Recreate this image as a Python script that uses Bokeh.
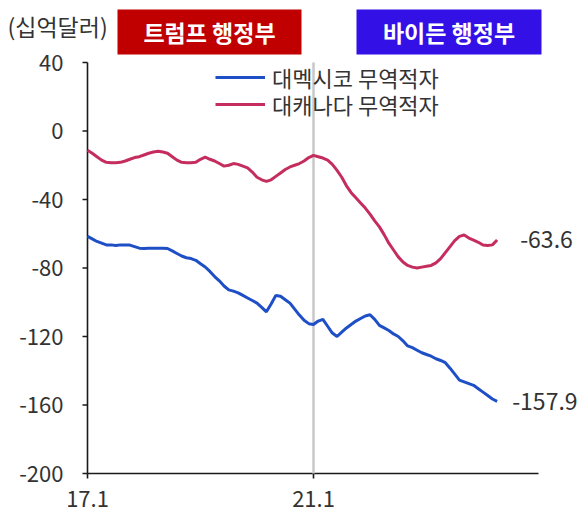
import math
from bokeh.plotting import figure
from bokeh.models import Range1d, Label, BoxAnnotation, Legend, LegendItem
from bokeh.embed import file_html
from bokeh.resources import INLINE
from bokeh.core.properties import value

# ---------------- data ----------------
months = list(range(88))            # monthly index from 2017.1
x_tick_pos = [0, 48]
x_tick_labels = ["17.1", "21.1"]
y_ticks = [40, 0, -40, -80, -120, -160, -200]
y_tick_labels = ["40", "0", "-40", "-80", "-120", "-160", "-200"]

series_names = ["대멕시코 무역적자", "대캐나다 무역적자"]
admin_names = ["트럼프 행정부", "바이든 행정부"]
unit_label = "(십억달러)"

mexico = [
    -61.5, -63.0, -64.5, -65.5, -66.5, -66.5, -66.8, -66.5, -66.6, -66.6,
    -67.5, -68.4, -68.6, -68.4, -68.5, -68.4, -68.4, -68.6, -70.0, -71.5,
    -73.0, -74.0, -74.5, -75.5, -77.5, -79.4, -82.0, -85.0, -87.5, -90.5,
    -92.8, -93.5, -94.5, -96.0, -97.5, -99.0, -100.5, -103.0, -105.6, -101.0,
    -96.0, -96.5, -98.5, -100.5, -104.0, -107.5, -110.5, -112.5, -113.0, -111.0,
    -110.0, -114.0, -118.0, -120.0, -117.5, -115.0, -113.0, -111.0, -109.5, -108.0,
    -107.3, -110.0, -113.5, -115.0, -116.5, -118.5, -120.0, -122.5, -125.5, -126.5,
    -128.0, -129.5, -130.5, -131.5, -133.0, -134.0, -135.3, -138.5, -142.0, -145.5,
    -146.5, -147.5, -148.5, -150.5, -152.5, -154.5, -156.5, -157.9,
]
canada = [
    -11.2, -13.0, -15.0, -17.0, -18.3, -18.5, -18.5, -18.3, -17.5, -16.5,
    -15.5, -15.0, -14.0, -13.0, -12.3, -11.8, -12.3, -13.0, -15.0, -17.0,
    -18.3, -18.5, -18.5, -18.3, -16.5, -15.3, -16.5, -17.5, -19.0, -20.5,
    -20.0, -19.0, -19.5, -20.5, -21.5, -24.0, -27.0, -28.5, -29.4, -28.5,
    -26.5, -24.5, -22.5, -21.0, -20.0, -19.0, -17.5, -15.5, -14.2, -15.0,
    -15.8, -17.0, -19.5, -23.0, -27.0, -32.0, -36.0, -39.0, -42.0, -45.0,
    -48.5, -52.5, -56.0, -60.5, -65.5, -69.5, -73.5, -76.5, -78.5, -79.5,
    -80.0, -79.5, -79.0, -78.5, -77.0, -74.5, -71.0, -67.5, -64.0, -61.5,
    -60.7, -62.5, -63.7, -65.0, -66.6, -66.8, -66.5, -63.6,
]

# ---------------- styling ----------------
FONT = "Noto Sans CJK KR"
BLUE = "#1F4FC6"
PINK = "#C42D5E"
RED_BOX = "#C00000"
BLUE_BOX = "#3311E6"
TXT = "#333333"
AXIS = "#1a1a1a"

W, H = 577, 513
AXIS_X = 87                            # pixel column of the value axis
AXIS_Y = 473                           # pixel row of the time axis
PX_PER_MONTH = 226 / 48
PX_PER_UNIT = 411 / 240
x_start = -AXIS_X / PX_PER_MONTH
x_end = (W - AXIS_X) / PX_PER_MONTH
y_bot = -200 - (H - AXIS_Y) / PX_PER_UNIT
y_top = -200 + AXIS_Y / PX_PER_UNIT
x_axis_end = (538 - AXIS_X) / PX_PER_MONTH

p = figure(width=W, height=H,
           x_range=Range1d(x_start, x_end), y_range=Range1d(y_bot, y_top),
           output_backend="svg", toolbar_location=None,
           min_border_left=0, min_border_right=0,
           min_border_top=0, min_border_bottom=0)
p.outline_line_color = None
p.xgrid.visible = False
p.ygrid.visible = False
p.background_fill_color = "white"
p.border_fill_color = "white"
p.axis.visible = False

y_min, y_max = min(y_ticks), max(y_ticks)

# value axis (line, outward ticks, labels)
p.segment(x0=[0], y0=[y_min], x1=[0], y1=[y_max], line_color=AXIS, line_width=1.6)
p.ray(x=[0] * len(y_ticks), y=y_ticks, length=5, length_units="screen",
      angle=math.pi, line_color=AXIS, line_width=1.6)
p.text(x=[0] * len(y_ticks), y=y_ticks, text=y_tick_labels, x_offset=-24,
       text_align="right", text_baseline="middle",
       text_font=value(FONT), text_font_size="22px", text_color=TXT)

# time axis
p.segment(x0=[0], y0=[y_min], x1=[x_axis_end], y1=[y_min], line_color=AXIS, line_width=1.6)
p.ray(x=x_tick_pos, y=[y_min] * len(x_tick_pos), length=5, length_units="screen",
      angle=-math.pi / 2, line_color=AXIS, line_width=1.6)
p.text(x=x_tick_pos, y=[y_min] * len(x_tick_pos), text=x_tick_labels, y_offset=25,
       text_align="center", text_baseline="middle",
       text_font=value(FONT), text_font_size="22px", text_color=TXT)

# administration boundary (21.1)
p.segment(x0=[x_tick_pos[1]], y0=[y_min], x1=[x_tick_pos[1]], y1=[y_max],
          line_color="#C8C8C8", line_width=2.5)

r_mex = p.line(months, mexico, line_color=BLUE, line_width=3)
r_can = p.line(months, canada, line_color=PINK, line_width=3)

for name, r, ly in zip(series_names, [r_mex, r_can], [420, 393]):
    lg = Legend(items=[LegendItem(label=name, renderers=[r])],
                location=(215, ly), padding=0, margin=0, spacing=0,
                glyph_width=50, glyph_height=22, label_height=22,
                label_standoff=7, border_line_color=None,
                background_fill_alpha=0,
                label_text_font=FONT, label_text_font_size="22px",
                label_text_color=TXT)
    p.add_layout(lg)

# end-value labels
p.add_layout(Label(x=months[-1], y=canada[-1], x_offset=23, text=f"{canada[-1]}",
                   text_baseline="middle", text_font=FONT, text_font_size="23px",
                   text_color=TXT))
p.add_layout(Label(x=months[-1], y=mexico[-1], x_offset=15, text=f"{mexico[-1]}",
                   text_baseline="middle", text_font=FONT, text_font_size="23px",
                   text_color=TXT))

# administration header boxes (pixel spans converted to data units)
box_px = [(117, 301, RED_BOX), (356, 541, BLUE_BOX)]
b_bot = 40 + (62 - 54) / PX_PER_UNIT
b_top = 40 + (62 - 9) / PX_PER_UNIT
for (l, r, c), name in zip(box_px, admin_names):
    lx = (l - AXIS_X) / PX_PER_MONTH
    rx = (r - AXIS_X) / PX_PER_MONTH
    p.add_layout(BoxAnnotation(left=lx, right=rx, bottom=b_bot, top=b_top,
                               fill_color=c, fill_alpha=1.0, line_color=None))
    p.add_layout(Label(x=(lx + rx) / 2, y=(b_bot + b_top) / 2, text=name,
                       text_align="center", text_baseline="middle",
                       text_font=FONT, text_font_size="23px",
                       text_font_style="bold", text_color="white"))

# unit label (screen units, relative to frame)
p.add_layout(Label(x=7, y=H - 25, x_units="screen", y_units="screen",
                   text=unit_label, text_align="left", text_baseline="middle",
                   text_font=FONT, text_font_size="23px", text_color=TXT))

open("out.html", "w").write(file_html(p, INLINE))
